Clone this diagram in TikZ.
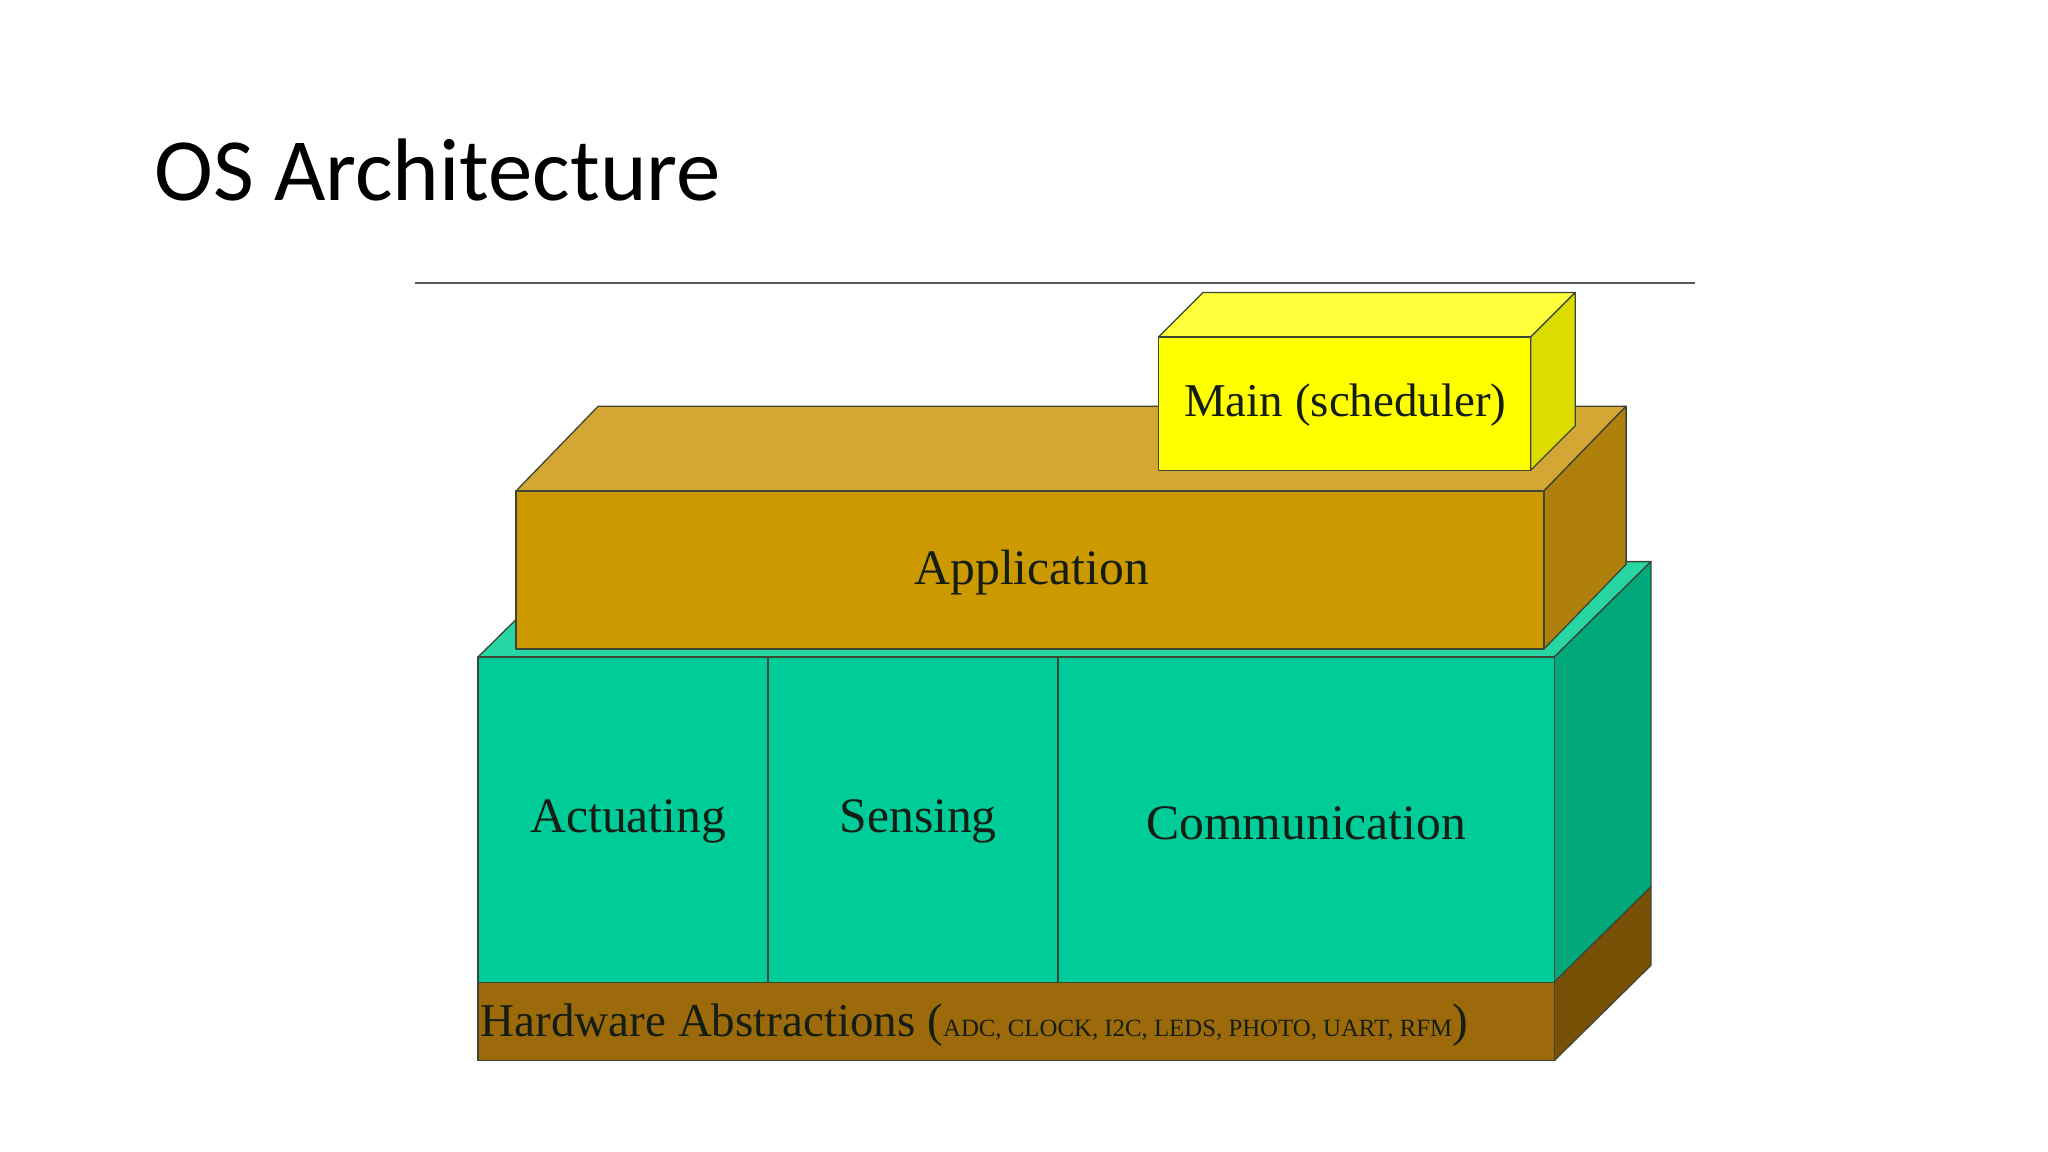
\documentclass[tikz,border=0pt]{standalone}
\usepackage{fontspec}
\setmainfont{Liberation Serif}
\newfontfamily\titlefont{Carlito}
\definecolor{gfront}{RGB}{0,204,153}
\definecolor{gtop}{RGB}{40,214,164}
\definecolor{gside}{RGB}{0,168,124}
\definecolor{hfront}{RGB}{156,106,10}
\definecolor{hside}{RGB}{120,80,6}
\definecolor{afront}{RGB}{204,153,0}
\definecolor{atop}{RGB}{212,166,52}
\definecolor{aside}{RGB}{176,128,12}
\definecolor{mfront}{RGB}{255,255,0}
\definecolor{mtop}{RGB}{255,255,60}
\definecolor{mside}{RGB}{220,220,0}
\definecolor{edge}{RGB}{60,70,50}
\definecolor{txt}{RGB}{20,30,20}
\tikzset{face/.style={draw=edge,line width=1pt,line join=round},
  lbl/.style={text=txt,inner sep=0pt}}
\begin{document}
\begin{tikzpicture}[x=1pt,y=-1pt]
\useasboundingbox (0,0) rectangle (1568,882);
\node[anchor=west,inner sep=0pt,font=\titlefont\fontsize{68}{80}\selectfont] (title) at (118,130) {OS Architecture};
\coordinate (l1) at (318,217); \coordinate (l2) at (1298,217);
\draw[gray!70!black,line width=1.5pt] (l1) -- (l2);
% lower block
\draw[face,fill=gtop] (366,503) -- (1190,503) -- (1264,430) -- (440,430) -- cycle;
\draw[face,fill=gside] (1190,503) -- (1264,430) -- (1264,679) -- (1190,752) -- cycle;
\draw[face,fill=hside] (1190,752) -- (1264,679) -- (1264,739) -- (1190,812) -- cycle;
\draw[face,fill=gfront] (366,503) rectangle (1190,752);
\draw[face,fill=hfront] (366,752) rectangle (1190,812);
\draw[face] (588,503) -- (588,752);
\draw[face] (810,503) -- (810,752);
% application
\draw[face,fill=atop] (395,376) -- (1182,376) -- (1245,311) -- (458,311) -- cycle;
\draw[face,fill=aside] (1182,376) -- (1245,311) -- (1245,432) -- (1182,497) -- cycle;
\draw[face,fill=afront] (395,376) rectangle (1182,497);
% main
\draw[face,fill=mtop] (887,258) -- (1172,258) -- (1206,224) -- (921,224) -- cycle;
\draw[face,fill=mside] (1172,258) -- (1206,224) -- (1206,326) -- (1172,360) -- cycle;
\draw[face,fill=mfront] (887,258) rectangle (1172,360);
% labels
\node[lbl,font=\fontsize{36}{40}\selectfont] (main) at (1030,310) {Main (scheduler)};
\node[lbl,font=\fontsize{38}{44}\selectfont] (app) at (790,438) {Application};
\node[lbl,font=\fontsize{38}{44}\selectfont] (act) at (481,629) {Actuating};
\node[lbl,font=\fontsize{38}{44}\selectfont] (sen) at (703,629) {Sensing};
\node[lbl,font=\fontsize{38}{44}\selectfont] (com) at (1000,630) {Communication};
\node[lbl,anchor=west,font=\fontsize{36}{40}\selectfont] (hw) at (368,785) {Hardware Abstractions ({\fontsize{19}{22}\selectfont ADC, CLOCK, I2C, LEDS, PHOTO, UART, RFM})};
\end{tikzpicture}
\end{document}
